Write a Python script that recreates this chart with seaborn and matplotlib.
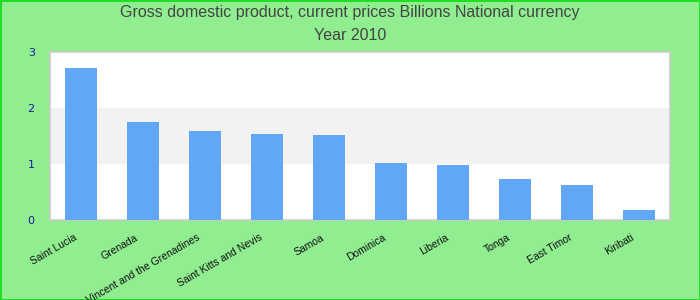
import matplotlib
matplotlib.use("Agg")
import matplotlib.pyplot as plt
import matplotlib.transforms as mtrans
import seaborn as sns
import pandas as pd

countries = ["Saint Lucia", "Grenada", "Saint Vincent and the Grenadines",
             "Saint Kitts and Nevis", "Samoa", "Dominica", "Liberia",
             "Tonga", "East Timor", "Kiribati"]
values = [2.71, 1.75, 1.59, 1.54, 1.52, 1.02, 0.98, 0.73, 0.625, 0.18]
yticks = [0, 1, 2, 3]
title_lines = ["Gross domestic product, current prices Billions National currency", "Year 2010"]

df = pd.DataFrame({"country": countries, "value": values})

sns.set_theme(style="white")
plt.rcParams['font.family'] = ['Liberation Sans', 'DejaVu Sans']

fig = plt.figure(figsize=(7, 3), dpi=100, facecolor="#90ee90",
                 edgecolor="#22dd22", linewidth=2)
ax = fig.add_axes([50/700, 1-220/300, 620/700, 168/300])
ax.set_facecolor("white")

sns.barplot(data=df, x="country", y="value", color="#60a8f5",
            saturation=1, width=0.52, ax=ax, zorder=3, linewidth=0,
            edgecolor="none")

ax.axhspan(1, 2, color="#f2f2f2", zorder=0, lw=0)
ax.set_ylim(0, 3)
ax.set_xlim(-0.5, len(countries) - 0.5)
ax.set_yticks(yticks)
ax.set_yticklabels([str(t) for t in yticks], color="#1a1aa0", fontsize=8,
                   family="DejaVu Sans")
ax.tick_params(axis="y", length=0, pad=11)
ax.tick_params(axis="x", length=0, pad=9)
ax.set_xticks(range(len(countries)))
ax.set_xticklabels(countries, rotation=30, ha="right", rotation_mode="anchor",
                   fontsize=7.5, color="#111111")
offset = mtrans.ScaledTranslation(-8/100, 0, fig.dpi_scale_trans)
for lab in ax.get_xticklabels():
    lab.set_transform(lab.get_transform() + offset)
ax.set_xlabel("")
ax.set_ylabel("")
for s in ax.spines.values():
    s.set_color("#cccccc")
    s.set_linewidth(1.2)

fig.text(0.5, 1-13/300, title_lines[0], ha="center", va="center",
         fontsize=11.5, color="#444444")
fig.text(0.5, 1-36/300, title_lines[1], ha="center", va="center",
         fontsize=11.5, color="#444444")

fig.savefig("out.png", dpi=100, facecolor=fig.get_facecolor(),
            edgecolor=fig.get_edgecolor())
